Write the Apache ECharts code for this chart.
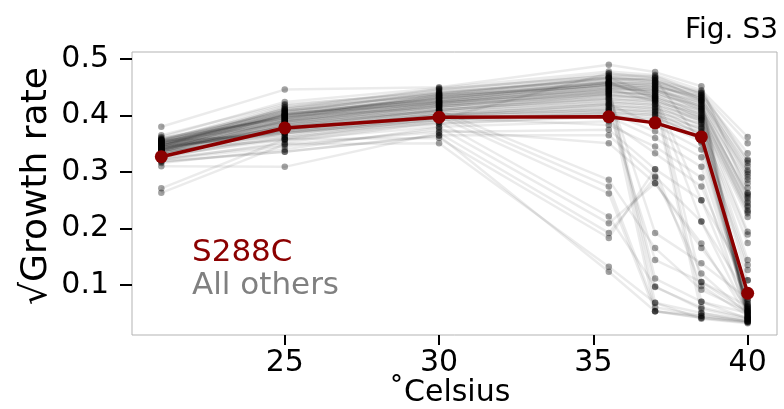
<!DOCTYPE html>
<html>
<head>
<meta charset="utf-8">
<script src="https://cdn.jsdelivr.net/npm/echarts@6/dist/echarts.min.js"></script>
<style>
  html, body { margin: 0; padding: 0; background: #fff; }
  #chart { width: 784px; height: 409px; }
</style>
</head>
<body>
<div id="chart"></div>
<script>
// Growth temperatures (°C)
var temps = [21, 25, 30, 35.5, 37, 38.5, 40];

// Reference strain
var s288c = [0.327, 0.378, 0.397, 0.398, 0.387, 0.362, 0.085];

// Every other strain, one row per strain, in the order of temps
var otherStrains = [
  [0.362, 0.424, 0.449, 0.478, 0.472, 0.445, 0.362],
  [0.356, 0.418, 0.444, 0.474, 0.468, 0.440, 0.351],
  [0.350, 0.412, 0.446, 0.471, 0.470, 0.437, 0.333],
  [0.365, 0.420, 0.440, 0.468, 0.463, 0.442, 0.322],
  [0.345, 0.409, 0.438, 0.466, 0.460, 0.433, 0.316],
  [0.352, 0.415, 0.435, 0.463, 0.466, 0.428, 0.310],
  [0.358, 0.405, 0.442, 0.461, 0.458, 0.436, 0.303],
  [0.340, 0.402, 0.431, 0.458, 0.455, 0.425, 0.296],
  [0.348, 0.410, 0.428, 0.456, 0.452, 0.431, 0.291],
  [0.355, 0.398, 0.433, 0.454, 0.448, 0.420, 0.286],
  [0.343, 0.407, 0.425, 0.452, 0.450, 0.415, 0.280],
  [0.360, 0.395, 0.437, 0.450, 0.444, 0.424, 0.272],
  [0.338, 0.400, 0.422, 0.448, 0.441, 0.412, 0.263],
  [0.351, 0.392, 0.430, 0.446, 0.446, 0.409, 0.259],
  [0.346, 0.404, 0.419, 0.444, 0.437, 0.418, 0.253],
  [0.341, 0.389, 0.426, 0.442, 0.434, 0.405, 0.248],
  [0.357, 0.396, 0.416, 0.440, 0.439, 0.401, 0.245],
  [0.336, 0.386, 0.423, 0.438, 0.430, 0.410, 0.240],
  [0.349, 0.399, 0.413, 0.436, 0.427, 0.398, 0.238],
  [0.344, 0.383, 0.420, 0.434, 0.432, 0.395, 0.232],
  [0.353, 0.393, 0.410, 0.432, 0.424, 0.403, 0.230],
  [0.339, 0.380, 0.417, 0.430, 0.421, 0.391, 0.227],
  [0.347, 0.390, 0.407, 0.428, 0.426, 0.388, 0.220],
  [0.334, 0.377, 0.414, 0.426, 0.418, 0.396, 0.194],
  [0.354, 0.387, 0.404, 0.424, 0.415, 0.384, 0.189],
  [0.342, 0.374, 0.411, 0.422, 0.420, 0.380, 0.174],
  [0.337, 0.384, 0.401, 0.420, 0.412, 0.392, 0.144],
  [0.350, 0.371, 0.408, 0.418, 0.409, 0.376, 0.135],
  [0.333, 0.381, 0.398, 0.416, 0.414, 0.372, 0.126],
  [0.345, 0.368, 0.405, 0.414, 0.406, 0.386, 0.108],
  [0.340, 0.378, 0.395, 0.412, 0.403, 0.368, 0.085],
  [0.356, 0.365, 0.402, 0.410, 0.408, 0.365, 0.073],
  [0.331, 0.375, 0.392, 0.408, 0.400, 0.378, 0.066],
  [0.348, 0.362, 0.399, 0.406, 0.397, 0.361, 0.065],
  [0.343, 0.372, 0.389, 0.404, 0.402, 0.357, 0.060],
  [0.335, 0.359, 0.396, 0.402, 0.394, 0.370, 0.056],
  [0.352, 0.369, 0.386, 0.400, 0.391, 0.354, 0.055],
  [0.338, 0.357, 0.393, 0.475, 0.466, 0.351, 0.050],
  [0.346, 0.414, 0.447, 0.470, 0.462, 0.430, 0.047],
  [0.359, 0.408, 0.439, 0.465, 0.457, 0.426, 0.045],
  [0.341, 0.401, 0.434, 0.460, 0.453, 0.421, 0.043],
  [0.353, 0.397, 0.427, 0.455, 0.447, 0.416, 0.042],
  [0.336, 0.391, 0.421, 0.449, 0.442, 0.407, 0.040],
  [0.350, 0.386, 0.415, 0.443, 0.435, 0.399, 0.038],
  [0.344, 0.379, 0.409, 0.437, 0.429, 0.393, 0.036],
  [0.380, 0.446, 0.450, 0.490, 0.477, 0.452, 0.262],
  [0.357, 0.411, 0.440, 0.467, 0.461, 0.439, 0.320],
  [0.339, 0.394, 0.431, 0.459, 0.456, 0.427, 0.300],
  [0.347, 0.403, 0.424, 0.453, 0.445, 0.413, 0.256],
  [0.355, 0.399, 0.436, 0.457, 0.451, 0.434, 0.052],
  [0.334, 0.376, 0.400, 0.420, 0.383, 0.340, 0.058],
  [0.331, 0.370, 0.392, 0.405, 0.372, 0.326, 0.070],
  [0.326, 0.362, 0.385, 0.398, 0.360, 0.309, 0.062],
  [0.340, 0.380, 0.396, 0.383, 0.345, 0.290, 0.041],
  [0.329, 0.357, 0.380, 0.390, 0.333, 0.274, 0.085],
  [0.324, 0.349, 0.371, 0.375, 0.305, 0.250, 0.054],
  [0.318, 0.336, 0.365, 0.365, 0.292, 0.212, 0.048],
  [0.322, 0.345, 0.375, 0.351, 0.280, 0.173, 0.044],
  [0.345, 0.395, 0.423, 0.445, 0.111, 0.070, 0.050],
  [0.338, 0.388, 0.416, 0.438, 0.096, 0.060, 0.042],
  [0.352, 0.403, 0.430, 0.455, 0.068, 0.050, 0.038],
  [0.336, 0.384, 0.410, 0.430, 0.053, 0.045, 0.035],
  [0.330, 0.373, 0.401, 0.410, 0.144, 0.105, 0.062],
  [0.341, 0.391, 0.418, 0.441, 0.192, 0.138, 0.075],
  [0.333, 0.382, 0.409, 0.286, 0.165, 0.091, 0.052],
  [0.328, 0.375, 0.404, 0.274, 0.060, 0.045, 0.036],
  [0.325, 0.368, 0.398, 0.262, 0.053, 0.041, 0.033],
  [0.321, 0.352, 0.389, 0.221, 0.097, 0.057, 0.040],
  [0.316, 0.340, 0.379, 0.209, 0.280, 0.165, 0.058],
  [0.310, 0.309, 0.369, 0.192, 0.290, 0.120, 0.048],
  [0.271, 0.358, 0.360, 0.183, 0.305, 0.098, 0.045],
  [0.263, 0.349, 0.351, 0.132, 0.068, 0.040, 0.032],
  [0.319, 0.336, 0.364, 0.123, 0.053, 0.042, 0.034],
  [0.343, 0.396, 0.424, 0.453, 0.440, 0.105, 0.052],
  [0.350, 0.402, 0.432, 0.459, 0.432, 0.070, 0.040],
  [0.337, 0.390, 0.420, 0.448, 0.425, 0.050, 0.035],
  [0.346, 0.401, 0.427, 0.458, 0.430, 0.212, 0.080],
  [0.355, 0.407, 0.436, 0.467, 0.435, 0.250, 0.108]
];

// Tick positions
var xTicks = [25, 30, 35, 40];
var yTicks = [0.1, 0.2, 0.3, 0.4, 0.5];

var FONT = 'DejaVu Sans';

function pairs(values) {
  return temps.map(function (t, i) { return [t, values[i]]; });
}

var series = otherStrains.map(function (row) {
  return {
    type: 'line',
    data: pairs(row),
    symbol: 'circle',
    symbolSize: 6.5,
    showAllSymbol: true,
    silent: true,
    z: 2,
    lineStyle: { color: 'rgba(0,0,0,0.08)', width: 2.5 },
    itemStyle: { color: 'rgba(0,0,0,0.36)', borderWidth: 0 },
    emphasis: { disabled: true }
  };
});

series.push({
  type: 'line',
  data: pairs(s288c),
  symbol: 'circle',
  symbolSize: 13,
  showAllSymbol: true,
  silent: true,
  z: 5,
  lineStyle: { color: '#8b0000', width: 3.5 },
  itemStyle: { color: '#8b0000', borderWidth: 0 },
  emphasis: { disabled: true }
});

var chart = echarts.init(document.getElementById('chart'), null, { renderer: 'canvas' });

chart.setOption({
  animation: false,
  backgroundColor: '#fff',
  grid: {
    left: 132, top: 52, right: 7, bottom: 74,
    show: true, borderColor: '#b3b3b3', borderWidth: 1,
    containLabel: false, outerBoundsMode: 'none'
  },
  xAxis: {
    type: 'value',
    min: 20.05, max: 40.95,
    axisLine: { show: false },
    splitLine: { show: false },
    axisTick: {
      show: true, length: 10, inside: false,
      customValues: xTicks,
      lineStyle: { color: '#000', width: 2 }
    },
    axisLabel: {
      customValues: xTicks,
      margin: 13,
      color: '#000',
      fontFamily: FONT, fontSize: 30,
      formatter: function (v) { return String(v); }
    }
  },
  yAxis: {
    type: 'value',
    min: 0.011, max: 0.5126,
    axisLine: { show: false },
    splitLine: { show: false },
    axisTick: {
      show: true, length: 12, inside: false,
      customValues: yTicks,
      lineStyle: { color: '#000', width: 2 }
    },
    axisLabel: {
      customValues: yTicks,
      margin: 23,
      color: '#000',
      fontFamily: FONT, fontSize: 30,
      formatter: function (v) { return v.toFixed(1); }
    }
  },
  graphic: [
    {
      type: 'text', x: 778, y: 31,
      style: { text: 'Fig. S3', fill: '#000', font: '28px "DejaVu Sans"', align: 'right', verticalAlign: 'middle' }
    },
    {
      type: 'text', x: 389, y: 393,
      style: { text: '˚Celsius', fill: '#000', font: '30px "DejaVu Sans"', align: 'left', verticalAlign: 'middle' }
    },
    {
      type: 'text', x: 37, y: 186, rotation: Math.PI / 2,
      style: { text: '√Growth rate', fill: '#000', font: '36px "DejaVu Sans"', align: 'center', verticalAlign: 'middle' }
    },
    {
      type: 'text', x: 192, y: 253, z: 10,
      style: { text: 'S288C', fill: '#8b0000', font: '31px "DejaVu Sans"', align: 'left', verticalAlign: 'middle' }
    },
    {
      type: 'text', x: 192, y: 286, z: 10,
      style: { text: 'All others', fill: '#808080', font: '31px "DejaVu Sans"', align: 'left', verticalAlign: 'middle' }
    }
  ],
  series: series
});
</script>
</body>
</html>
